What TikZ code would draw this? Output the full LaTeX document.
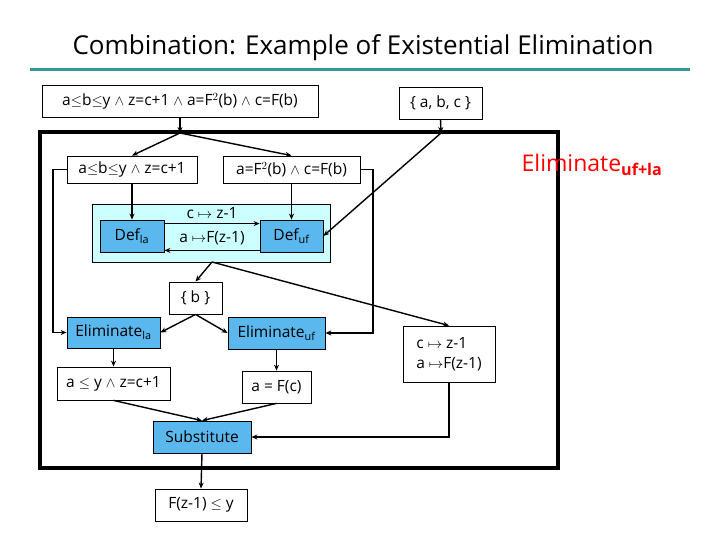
\documentclass[tikz,border=0pt]{standalone}
\usepackage{fontspec}
\setmainfont{Open Sans}
\usetikzlibrary{arrows.meta}
\definecolor{blu}{HTML}{5BB8EE}
\definecolor{cya}{HTML}{CCFFFF}
\definecolor{teal2}{HTML}{2E9A9A}
\begin{document}
\begin{tikzpicture}[x=1pt,y=-1pt,
  bx/.style={draw,line width=0.8pt,fill=white,inner sep=0pt,font=\fontsize{15.5}{18}\selectfont},
  bl/.style={bx,fill=blu},
  ar/.style={line width=1.4pt,-{Stealth[length=6pt,width=5pt]}},
  ln/.style={line width=1.4pt}]
\useasboundingbox (0,0) rectangle (720,540);
\node[font=\fontsize{26}{30}\selectfont] (title) at (363,48) {Combination: Example of Existential Elimination};
\draw[teal2,line width=3pt] (30,70) -- (690,70);
\draw[line width=3.5pt] (40,132) rectangle (558,468);
\node[bx,minimum width=276,minimum height=32] (top) at (180,101) {a$\leq$b$\leq$y $\wedge$ z=c+1 $\wedge$ a=F$^2$(b) $\wedge$ c=F(b)};
\node[bx,minimum width=83,minimum height=32] (abc) at (440.5,103) {\{ a, b, c \}};
\node[text=red,font=\fontsize{23}{26}\selectfont] (elim) at (592,165) {Eliminate\textsubscript{\textbf{uf+la}}};
\node[bx,minimum width=130,minimum height=27] (n1) at (132,169.5) {a$\leq$b$\leq$y $\wedge$ z=c+1};
\node[bx,minimum width=137,minimum height=27] (n2) at (291.5,169.5) {a=F$^2$(b) $\wedge$ c=F(b)};
\node[draw,line width=0.8pt,fill=cya,minimum width=238,minimum height=58,inner sep=0pt] (cy) at (211,233) {};
\node[bl,minimum width=64,minimum height=32] (dla) at (132,236) {Def\textsubscript{la}};
\node[bl,minimum width=63,minimum height=32] (duf) at (291.5,236) {Def\textsubscript{uf}};
\node[font=\fontsize{15.5}{18}\selectfont] (l1) at (212,213) {c $\mapsto$ z-1};
\node[font=\fontsize{15.5}{18}\selectfont] (l2) at (212,238) {a $\mapsto$F(z-1)};
\node[bx,minimum width=53,minimum height=32] (b) at (195.5,298) {\{ b \}};
\node[bl,minimum width=93,minimum height=31] (ela) at (113.5,332.5) {Eliminate\textsubscript{la}};
\node[bl,minimum width=97,minimum height=32] (euf) at (276.5,333) {Eliminate\textsubscript{uf}};
\node[bx,minimum width=92,minimum height=56,align=left] (cb) at (449,354) {c $\mapsto$ z-1\\[2pt]a $\mapsto$F(z-1)};
\node[bx,minimum width=113,minimum height=33] (ay) at (113.5,383.5) {a $\leq$ y $\wedge$ z=c+1};
\node[bx,minimum width=69,minimum height=32] (aF) at (276.5,387) {a = F(c)};
\node[bl,minimum width=98,minimum height=32] (sub) at (202,437) {Substitute};
\node[bx,minimum width=92,minimum height=32] (Fz) at (201,505) {F(z-1) $\leq$ y};
\coordinate (f1) at (180,133);
\coordinate (f2) at (441,133);
\coordinate (f3) at (212,262);
\draw[ar] (top.south) -- (f1);
\draw[ar] (abc.south) -- (f2);
\draw[ar] (f1) -- (n1.north);
\draw[ar] (f1) -- (n2.north);
\draw[ar] (f2) -- (duf.east);
\draw[ar] (n1.south) -- (dla.north);
\draw[ar] (n2.south) -- (duf.north);
\draw[ar] ([yshift=-4pt]dla.north east) -- ([yshift=-4pt]duf.north west);
\draw[ar] ([yshift=2pt]duf.south west) -- ([yshift=2pt]dla.south east);
\draw[ar] (f3) -- (b.north);
\draw[ar] (f3) -- (cb.north);
\draw[ar] (n1.west) -- (53,169.5) |- (ela.west);
\draw[ar] (n2.east) -- (373,169.5) |- (euf.east);
\draw[ar] (b.south) -- (ela.east);
\draw[ar] (b.south) -- (euf.west);
\draw[ar] (ela.south) -- (ay.north);
\draw[ar] (euf.south) -- (aF.north);
\draw[ar] (ay.south) -- (sub.north);
\draw[ar] (aF.south) -- (sub.north);
\draw[ar] (cb.south) |- (sub.east);
\draw[ar] (sub.south) -- (Fz.north);
\end{tikzpicture}
\end{document}
